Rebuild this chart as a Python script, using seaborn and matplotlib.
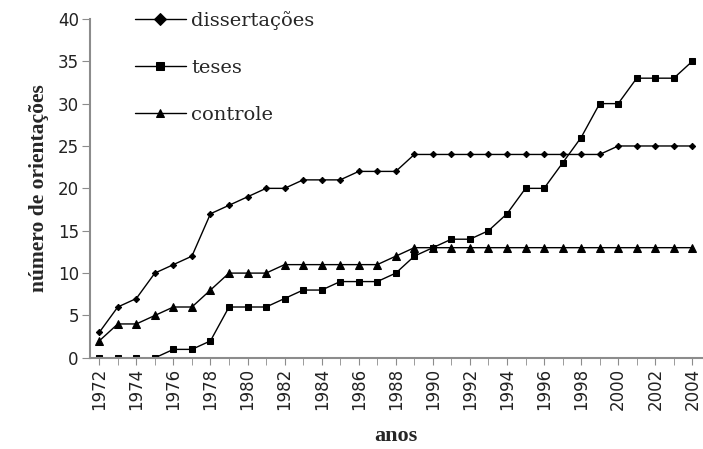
import numpy as np
import pandas as pd
import matplotlib
matplotlib.use("Agg")
import matplotlib.pyplot as plt
from matplotlib.ticker import MultipleLocator
import seaborn as sns

years = list(range(1972, 2005))
dissertacoes = [3, 6, 7, 10, 11, 12, 17, 18, 19, 20, 20, 21, 21, 21, 22, 22, 22,
                24, 24, 24, 24, 24, 24, 24, 24, 24, 24, 24, 25, 25, 25, 25, 25]
teses = [0, 0, 0, 0, 1, 1, 2, 6, 6, 6, 7, 8, 8, 9, 9, 9, 10,
         12, 13, 14, 14, 15, 17, 20, 20, 23, 26, 30, 30, 33, 33, 33, 35]
controle = [2, 4, 4, 5, 6, 6, 8, 10, 10, 10, 11, 11, 11, 11, 11, 11, 12,
            13, 13, 13, 13, 13, 13, 13, 13, 13, 13, 13, 13, 13, 13, 13, 13]
series = ["dissertações", "teses", "controle"]

df = pd.concat([
    pd.DataFrame({"ano": years, "n": vals, "serie": name})
    for name, vals in zip(series, [dissertacoes, teses, controle])
])

sns.set_style("white")
grey = "#8c8c8c"

fig = plt.figure(figsize=(7.03, 4.49), dpi=100)
ax = fig.add_axes([0.128, 0.203, 0.870, 0.755])

sns.lineplot(data=df, x="ano", y="n", hue="serie", style="serie",
             hue_order=series, style_order=series,
             palette=["black"] * 3, markers={"dissertações": "D", "teses": "s", "controle": "^"},
             dashes=False, linewidth=1, markeredgecolor="black",
             ax=ax)
# marker sizes differ a bit per series
for line, ms in zip(ax.get_lines()[:3], [3.2, 5, 6]):
    line.set_markersize(ms)

ax.set_xlim(1971.5, 2004.5)
ax.set_ylim(0, 40)
ax.xaxis.set_minor_locator(MultipleLocator(1))
ax.yaxis.set_major_locator(MultipleLocator(5))
ax.set_xticks(range(1972, 2005, 2))
ax.tick_params(axis="x", which="both", direction="out", length=5, color=grey,
               bottom=True, labelrotation=90, labelsize=12, pad=2)
ax.tick_params(axis="y", direction="out", length=6, color=grey, left=True,
               labelsize=12, pad=2)
for lab in ax.get_xticklabels() + ax.get_yticklabels():
    lab.set_fontfamily("DejaVu Sans")
    lab.set_color("#222222")

for side in ["top", "right"]:
    ax.spines[side].set_visible(False)
for side in ["left", "bottom"]:
    ax.spines[side].set_color(grey)
    ax.spines[side].set_linewidth(1.5)

ax.set_xlabel("anos", fontsize=16, fontweight="bold", family="Liberation Serif", labelpad=12)
ax.set_ylabel("número de orientações", fontsize=15.5, fontweight="bold",
              family="Liberation Serif", labelpad=6)

handles, labels = ax.get_legend_handles_labels()
leg = ax.legend(handles[-3:], labels[-3:], loc="upper left", bbox_to_anchor=(0.045, 1.075),
                frameon=False, handlelength=2.6, labelspacing=1.5, handletextpad=0.3,
                prop={"family": "DejaVu Serif", "size": 14})

fig.savefig("out.png", dpi=100)
